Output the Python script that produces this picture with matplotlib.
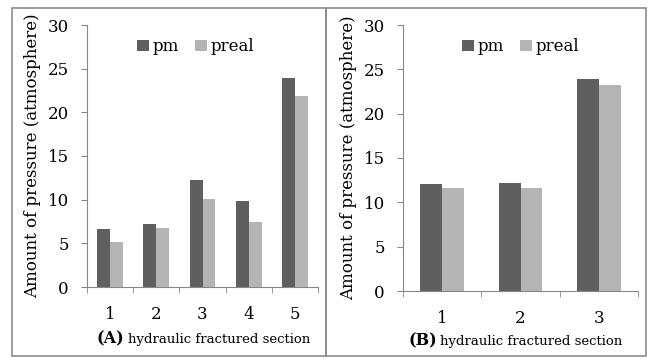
import numpy as np
import matplotlib.pyplot as plt
from matplotlib.patches import Rectangle

plt.rcParams["font.family"] = ["DejaVu Serif"]

# panel A
cats_a = ["1", "2", "3", "4", "5"]
pm_a = [6.6, 7.2, 12.3, 9.9, 23.9]
preal_a = [5.1, 6.8, 10.1, 7.5, 21.9]
# panel B
cats_b = ["1", "2", "3"]
pm_b = [12.1, 12.2, 23.9]
preal_b = [11.6, 11.6, 23.2]

DARK, LIGHT, AXC = "#5f5f5f", "#b4b4b4", "#878787"
W, H = 650, 361
fig = plt.figure(figsize=(W / 100, H / 100), dpi=100)


def px(x0, y0, x1, y1):
    return [x0 / W, 1 - y1 / H, (x1 - x0) / W, (y1 - y0) / H]


# panel frames
for x0, x1 in [(12, 326), (326, 646)]:
    fig.patches.append(Rectangle((x0 / W, 1 - 356 / H), (x1 - x0) / W,
                                 348 / H, transform=fig.transFigure,
                                 fill=False, ec="#8c8c8c", lw=1.2))


def panel(rect, cats, pm, preal, leg_x):
    ax = fig.add_axes(rect)
    x = np.arange(len(cats))
    bw = 0.28
    ax.bar(x - bw / 2, pm, bw, color=DARK, label="pm")
    ax.bar(x + bw / 2, preal, bw, color=LIGHT, label="preal")
    ax.set_xlim(-0.5, len(cats) - 0.5)
    ax.set_ylim(0, 30)
    ax.set_yticks(range(0, 31, 5))
    ax.set_xticks(x)
    ax.set_xticklabels(cats)
    ax.set_xticks(np.arange(len(cats) + 1) - 0.5, minor=True)
    ax.tick_params(axis="x", which="major", length=0, pad=14, labelsize=12)
    ax.tick_params(axis="x", which="minor", length=4.5, color=AXC,
                   direction="out")
    ax.tick_params(axis="y", length=4, color=AXC, labelsize=12, pad=9)
    for s in ["top", "right"]:
        ax.spines[s].set_visible(False)
    for s in ["left", "bottom"]:
        ax.spines[s].set_color(AXC)
    ax.set_ylabel("Amount of pressure (atmosphere)", fontsize=12, labelpad=5)
    ax.legend(loc="upper center", bbox_to_anchor=(leg_x, 1.0), ncol=2,
              frameon=False, fontsize=12, handlelength=0.7, handleheight=0.7,
              handletextpad=0.2, columnspacing=1.0, borderaxespad=0.4)
    return ax


ax1 = panel(px(87, 25, 318, 287), cats_a, pm_a, preal_a, 0.47)
ax2 = panel(px(403, 25, 638, 291), cats_b, pm_b, preal_b, 0.5)

rend = fig.canvas.get_renderer()
for tag, x0, y0 in [("(A)", 97, 339), ("(B)", 408, 341)]:
    t = fig.text(x0 / W, 1 - y0 / H, tag, fontsize=11.5, weight="bold",
                 va="center")
    x1 = t.get_window_extent(rend).x1 + 3
    fig.text(x1 / W, 1 - y0 / H, "hydraulic fractured section",
             fontsize=9.5, va="center")

fig.savefig("out.png", dpi=100)
